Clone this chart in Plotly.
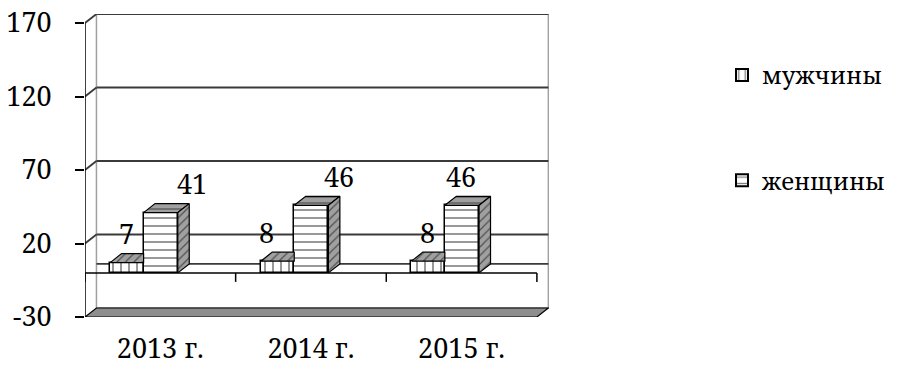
import plotly.graph_objects as go

# ---- data ----
categories = ["2013 г.", "2014 г.", "2015 г."]
series_names = ["мужчины", "женщины"]
men = [7, 8, 8]
women = [41, 46, 46]
y_ticks = [-30, 20, 70, 120, 170]

# ---- style / geometry (3D imitation) ----
FONT = "Noto Serif"
FS = 27
LEG_FS = 24
DX = 0.076
DY = 6.12
Y_MIN, Y_MAX = -30, 170
X_MIN, X_MAX = -0.5, 2.5
men_off, men_w = -0.333, 0.222
wom_off, wom_w = -0.111, 0.227
men_label_dx = [0, -11, -1]
wom_label_dx = [31, 28, -1]
LABEL_DY = 29

x_idx = list(range(len(categories)))

fig = go.Figure()

fig.add_trace(go.Bar(
    x=x_idx, y=men, base=0, name=series_names[0], offset=men_off, width=men_w,
    marker=dict(color="white", line=dict(color="black", width=1.5),
                pattern=dict(shape="|", size=8, solidity=0.2, fgcolor="black", bgcolor="white")),
    legendgroup="m", hoverinfo="skip"))
fig.add_trace(go.Bar(
    x=x_idx, y=women, base=0, name=series_names[1], offset=wom_off, width=wom_w,
    marker=dict(color="white", line=dict(color="black", width=1.5),
                pattern=dict(shape="-", size=8, solidity=0.2, fgcolor="black", bgcolor="white")),
    legendgroup="w", hoverinfo="skip"))

def face(xs, ys, shape):
    fig.add_trace(go.Scatter(
        x=xs, y=ys, mode="lines", fill="toself", fillcolor="#a0a0a0",
        fillpattern=dict(shape=shape, size=6, solidity=0.2, fgcolor="black", bgcolor="#a0a0a0"),
        line=dict(color="black", width=1.2), showlegend=False, hoverinfo="skip"))

for i, v in zip(x_idx, men):
    x0 = i + men_off
    x1 = x0 + men_w
    face([x0, x1, x1, x0 + DX, x0], [v, v, v + DY, v + DY, v], "/")
for i, v in zip(x_idx, women):
    x0 = i + wom_off
    x1 = x0 + wom_w
    face([x0, x1, x1 + DX, x0 + DX, x0], [v, v, v + DY, v + DY, v], "-")
    face([x1, x1 + DX, x1 + DX, x1, x1], [0, DY, v + DY, v, 0], "/")

ann = []
for vals, off, w, dxs in [(men, men_off, men_w, men_label_dx), (women, wom_off, wom_w, wom_label_dx)]:
    for i, v in zip(x_idx, vals):
        ann.append(dict(x=i + off + w / 2, y=v, text=str(v), showarrow=False,
                        xshift=dxs[i], yshift=LABEL_DY, yanchor="middle",
                        font=dict(family=FONT, size=FS, color="black")))

shapes = []
grid = dict(color="#3a3a3a", width=1.8)
shapes.append(dict(type="rect", x0=X_MIN + DX, x1=X_MAX + DX, y0=Y_MIN + DY, y1=Y_MAX + DY,
                   line=dict(color="#a0a0a0", width=1.5), fillcolor="white", layer="below"))
for t in y_ticks[1:]:
    shapes.append(dict(type="line", x0=X_MIN + DX, x1=X_MAX + DX, y0=t + DY, y1=t + DY,
                       line=grid, layer="below"))
    shapes.append(dict(type="line", x0=X_MIN, x1=X_MIN + DX, y0=t, y1=t + DY,
                       line=grid, layer="below"))
shapes.append(dict(type="line", x0=X_MIN + DX, x1=X_MAX + DX, y0=DY, y1=DY,
                   line=grid, layer="below"))
shapes.append(dict(type="path",
                   path=f"M{X_MIN},{Y_MIN} L{X_MAX},{Y_MIN} L{X_MAX + DX},{Y_MIN + DY} L{X_MIN + DX},{Y_MIN + DY} Z",
                   fillcolor="#8e8e8e", line=dict(color="black", width=1.2), layer="below"))
shapes.append(dict(type="line", x0=X_MIN, x1=X_MIN, y0=Y_MIN, y1=Y_MAX,
                   line=dict(color="black", width=1.5), layer="above"))
shapes.append(dict(type="line", x0=X_MIN, x1=X_MAX, y0=0, y1=0,
                   line=dict(color="black", width=1.5), layer="above"))
for b in [X_MIN + k for k in range(len(categories) + 1)]:
    shapes.append(dict(type="line", x0=b, x1=b, y0=0, y1=-DY,
                       line=dict(color="black", width=1.5), layer="above"))

W, H = 897, 369
ml, mr, mt, mb = 84.5, 897 - 549, 13.7, 369 - 316.7

fig.update_layout(
    width=W, height=H,
    margin=dict(l=ml, r=mr, t=mt, b=mb, pad=0, autoexpand=False),
    paper_bgcolor="white", plot_bgcolor="rgba(0,0,0,0)",
    barmode="overlay", bargap=0,
    font=dict(family=FONT, size=FS, color="black"),
    shapes=shapes, annotations=ann,
    showlegend=True,
    legend=dict(xref="container", yref="container", x=722 / W, y=1 - 53 / H,
                xanchor="left", yanchor="top", tracegroupgap=71,
                font=dict(family=FONT, size=LEG_FS, color="black"),
                bgcolor="rgba(0,0,0,0)", itemsizing="constant"),
    xaxis=dict(range=[X_MIN, X_MIN + (549 - 84.5) / 150.8], tickvals=x_idx, ticktext=categories,
               showgrid=False, zeroline=False, showline=False, ticks="",
               ticklabelstandoff=13, fixedrange=True, automargin=False,
               tickfont=dict(family=FONT, size=FS, color="black")),
    yaxis=dict(range=[Y_MIN, Y_MAX + DY], tickvals=y_ticks, ticktext=[str(t) for t in y_ticks],
               showgrid=False, zeroline=False, showline=False, ticks="outside", ticklen=9,
               tickcolor="black", tickwidth=1.5, ticklabelstandoff=18, fixedrange=True,
               automargin=False,
               tickfont=dict(family=FONT, size=FS, color="black")),
)

fig.write_html("out.html")
